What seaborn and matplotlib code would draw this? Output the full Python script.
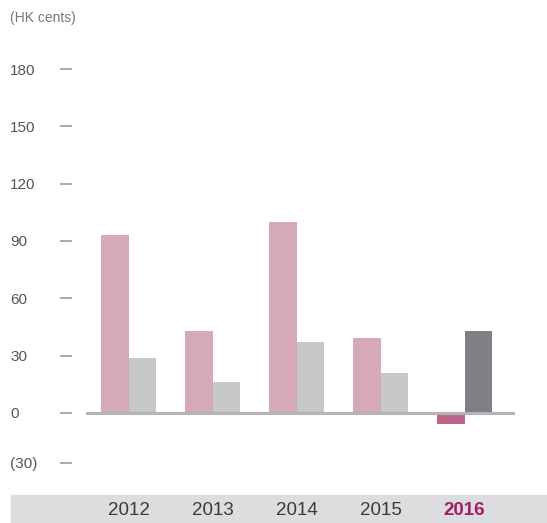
import matplotlib
matplotlib.use("Agg")
import matplotlib.pyplot as plt
import matplotlib.transforms as mtransforms
from matplotlib.patches import Rectangle
import seaborn as sns
import pandas as pd

years = ["2012", "2013", "2014", "2015", "2016"]
earnings = [93, 43, 100, 39, -6]
dividends = [29, 16, 37, 21, 43]
series_names = ["Earnings per share", "Dividends per share"]
ytick_labels = ["(30)", "0", "30", "60", "90", "120", "150", "180"]
ytick_values = [-26, 0, 30, 60, 90, 120, 150, 180]
unit_label = "(HK cents)"

df = pd.DataFrame({
    "year": years * 2,
    "value": earnings + dividends,
    "series": [series_names[0]] * len(years) + [series_names[1]] * len(years),
})

sns.set_theme(style="white")
plt.rcParams["font.family"] = ["Liberation Sans", "DejaVu Sans"]

W, H = 547, 523
fig = plt.figure(figsize=(W / 100, H / 100), dpi=100)

# bottom band (behind the axes)
fig.patches.append(Rectangle((11 / W, 0), (W - 11) / W, 28 / H,
                             transform=fig.transFigure, color="#dcdddf",
                             zorder=-5))

ax = fig.add_axes([86 / W, (H - 480) / H, (515 - 86) / W, (480 - 40) / H])
ax.set_zorder(2)
ax.patch.set_alpha(0)

pal = {series_names[0]: "#d5a9b8", series_names[1]: "#c6c7c9"}
sns.barplot(data=df, x="year", y="value", hue="series", palette=pal,
            width=0.655, gap=0, saturation=1, ax=ax, legend=False, zorder=2)

# highlight 2016
ax.containers[0][4].set_facecolor("#bf6489")
ax.containers[1][4].set_facecolor("#808084")
for c in ax.containers:
    for p in c:
        p.set_edgecolor("none")
        p.set_linewidth(0)

ax.set_xlim(-0.506, 4.60)
ax.set_ylim(-35.1, 195.2)
ax.axhline(0, color="#b3b3b8", lw=2.2, zorder=3)

for s in ax.spines.values():
    s.set_visible(False)
ax.set_xlabel("")
ax.set_ylabel("")
ax.grid(False)

# y ticks
ax.set_yticks(ytick_values)
ax.set_yticklabels(ytick_labels, fontsize=11, color="#555555", ha="left")
ax.tick_params(axis="y", length=0, pad=76 * 0.72)
trans = mtransforms.blended_transform_factory(ax.transAxes, ax.transData)
x0 = (60 - 86) / (515 - 86)
x1 = (72 - 86) / (515 - 86)
for v in ytick_values:
    ax.plot([x0, x1], [v, v], transform=trans, color="#949494", lw=1.1,
            clip_on=False, solid_capstyle="butt")

# x ticks
ax.set_xticks(range(len(years)))
ax.set_xticklabels(years)
ax.tick_params(axis="x", length=0, pad=16)
for lab in ax.get_xticklabels():
    lab.set_fontsize(13.5)
    lab.set_color("#3a3a3a")
    if lab.get_text() == "2016":
        lab.set_color("#a31f63")
        lab.set_fontweight("bold")

fig.text(10 / W, 1 - 18 / H, unit_label, fontsize=10, color="#777777",
         ha="left", va="center")

fig.savefig("out.png", dpi=100)
